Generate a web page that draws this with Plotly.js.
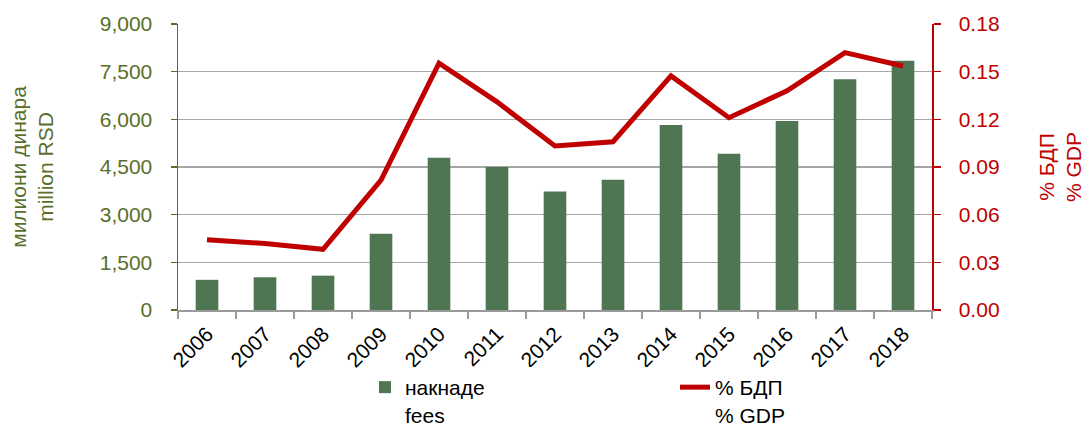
<!DOCTYPE html>
<html>
<head>
<meta charset="utf-8">
<script src="https://cdn.plot.ly/plotly-3.0.1.min.js"></script>
<style>html,body{margin:0;padding:0;background:#fff;}#chart{width:1086px;height:427px;}</style>
</head>
<body>
<div id="chart"></div>
<script>
const years = ['2006','2007','2008','2009','2010','2011','2012','2013','2014','2015','2016','2017','2018'];
const fees = [950, 1030, 1080, 2400, 4790, 4500, 3730, 4100, 5820, 4920, 5950, 7260, 7840];
const pctGdp = [0.0442, 0.0418, 0.0382, 0.0818, 0.1553, 0.1310, 0.1032, 0.1059, 0.1473, 0.1210, 0.1380, 0.1620, 0.1536];
const leftTicks = [0, 1500, 3000, 4500, 6000, 7500, 9000];
const rightTicks = [0, 0.03, 0.06, 0.09, 0.12, 0.15, 0.18];

const FONT = 'Liberation Sans, Arial, sans-serif';
const OLIVE = '#5a6e2a';
const RED = '#c00000';
const GREEN = '#4e7652';

const traces = [
  {type:'bar', x: years, y: fees, name: 'накнаде<br>fees', yaxis:'y',
   marker:{color: GREEN}},
  {type:'scatter', mode:'lines', x: years, y: pctGdp, name: '% БДП<br>% GDP', yaxis:'y2',
   line:{color: RED, width: 5}}
];

const layout = {
  width: 1086, height: 427,
  margin: {l:178, r:154, t:24, b:117, autoexpand:false},
  paper_bgcolor:'#fff', plot_bgcolor:'#fff',
  font: {family: FONT, size: 21, color:'#000'},
  bargap: 0.61,
  showlegend: true,
  legend: {orientation:'h', xref:'container', yref:'container', x:365/1086, xanchor:'left', y:1-367/427, yanchor:'top',
           entrywidth:265, entrywidthmode:'pixels', valign:'top',
           font:{family:FONT, size:21, color:'#000'}, traceorder:'normal'},
  xaxis: {type:'category', tickangle:-45, tickson:'boundaries', ticks:'outside', ticklen:7, automargin:false,
          tickcolor:'#9a9a9a', tickwidth:1.5, showline:true, linecolor:'#9a9a9a', linewidth:1.5,
          showgrid:false, tickfont:{family:FONT, size:21, color:'#000'}, ticklabelstandoff:2},
  yaxis: {range:[0,9000], tickvals:leftTicks, tickformat:',d', ticks:'outside', ticklen:6, automargin:false,
          tickcolor:OLIVE, tickwidth:1.5, showline:true, linecolor:OLIVE, linewidth:1.5,
          showgrid:true, gridcolor:'#a6a6a6', gridwidth:1.5, zeroline:false,
          tickfont:{family:FONT, size:21, color:OLIVE}, ticklabelstandoff:14,
          title:{text:'милиони динара<br>million RSD', font:{family:FONT, size:21, color:OLIVE}, standoff:40}},
  yaxis2: {range:[0,0.18], tickvals:rightTicks, tickformat:'.2f', overlaying:'y', side:'right', automargin:false,
           ticks:'outside', ticklen:7, tickcolor:RED, tickwidth:1.5, showline:true, linecolor:RED, linewidth:1.5,
           showgrid:false, zeroline:false,
           tickfont:{family:FONT, size:21, color:RED}, ticklabelstandoff:14,
           title:{text:'% БДП<br>% GDP', font:{family:FONT, size:21, color:RED}, standoff:40}}
};

Plotly.newPlot('chart', traces, layout, {displayModeBar:false, staticPlot:true});
</script>
</body>
</html>
